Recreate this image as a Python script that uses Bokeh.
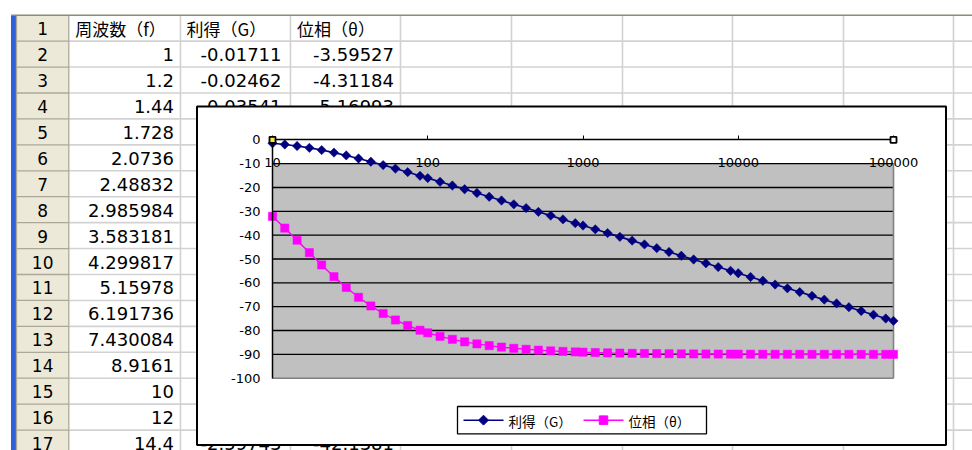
import math

from bokeh.core.properties import value
from bokeh.embed import file_html
from bokeh.models import (FixedTicker, LinearAxis, LogAxis, LogScale,
                          PrintfTickFormatter, Range1d)
from bokeh.plotting import figure
from bokeh.resources import INLINE

# ---------------------------------------------------------------------------
# Frequency response of the RC low-pass: f [Hz], gain G [dB], phase θ [deg]
# ---------------------------------------------------------------------------
freq = [10, 12, 14.4, 17.28, 20.736, 24.8832, 29.85984, 35.83181, 42.99817,
        51.5978, 61.91736, 74.30084, 89.161,
        100, 120, 144, 172.8, 207.36, 248.832, 298.5984, 358.3181, 429.9817,
        515.978, 619.1736, 743.0084, 891.61,
        1000, 1200, 1440, 1728, 2073.6, 2488.32, 2985.984, 3583.181, 4299.817,
        5159.78, 6191.736, 7430.084, 8916.1,
        10000, 12000, 14400, 17280, 20736, 24883.2, 29859.84, 35831.81,
        42998.17, 51597.8, 61917.36, 74300.84, 89161,
        100000]

gain_db = [-1.445, -1.955, -2.597, -3.382, -4.310, -5.371, -6.551, -7.831,
           -9.190, -10.611, -12.078, -13.578, -15.103,
           -16.072, -17.623, -19.184, -20.751, -22.324, -23.899, -25.478,
           -27.058, -28.639, -30.220, -31.803, -33.385, -34.968,
           -35.965, -37.548, -39.131, -40.715, -42.298, -43.882, -45.465,
           -47.049, -48.633, -50.216, -51.800, -53.383, -54.967,
           -55.964, -57.547, -59.131, -60.714, -62.298, -63.882, -65.465,
           -67.049, -68.633, -70.216, -71.800, -73.383, -74.967,
           -75.964]

phase_deg = [-32.14, -37.02, -42.14, -47.35, -52.49, -57.40, -61.94, -66.05,
             -69.69, -72.86, -75.58, -77.91, -79.88,
             -80.96, -82.45, -83.69, -84.74, -85.61, -86.34, -86.95, -87.46,
             -87.88, -88.23, -88.53, -88.77, -88.98,
             -89.09, -89.24, -89.37, -89.47, -89.56, -89.63, -89.69, -89.75,
             -89.79, -89.82, -89.85, -89.88, -89.90,
             -89.91, -89.92, -89.94, -89.95, -89.96, -89.96, -89.97, -89.97,
             -89.98, -89.98, -89.99, -89.99, -89.99,
             -89.99]

x_ticks = [10, 100, 1000, 10000, 100000]
y_ticks = [0, -10, -20, -30, -40, -50, -60, -70, -80, -90, -100]
grid_levels = [-10, -20, -30, -40, -50, -60, -70, -80, -90]

series_names = ["利得（G）", "位相（θ）"]

# Worksheet contents (row number -> cell text)
header_texts = ["周波数（f）", "利得（G）", "位相（θ）"]
col_a_texts = ["1", "1.2", "1.44", "1.728", "2.0736", "2.48832", "2.985984",
               "3.583181", "4.299817", "5.15978", "6.191736", "7.430084",
               "8.9161", "10", "12", "14.4"]          # rows 2..17
col_b_texts = {2: "-0.01711", 3: "-0.02462", 4: "-0.03541", 17: "-2.59743"}
col_c_texts = {2: "-3.59527", 3: "-4.31184", 4: "-5.16993", 17: "-42.1381"}

# ---------------------------------------------------------------------------
# Page geometry (pixels, y measured from the top)
# ---------------------------------------------------------------------------
W, H = 972, 450
SHEET_TOP = 14.7
ROW_H = 25.93
N_ROWS = 17
BLUE_L, HDR_L, HDR_R = 10.5, 16.0, 68.3
COL_EDGES = [68.3, 180, 290, 400, 511, 622, 732, 843, 953]
BOX_L, BOX_T, BOX_R, BOX_B = 196.5, 106.0, 945.5, 444.5
PX_F_LO, PX_F_HI = 272.0, 893.0      # pixel x of first / last frequency tick
PX_Y_TOP, PX_Y_BOT = 139.3, 377.7    # pixel y of 0 and -100

NAVY = "#000080"
MAGENTA = "#FF00FF"
PLOT_GRAY = "#C0C0C0"
CELL_LINE = "#D2D2D2"
HDR_FILL = "#ECE9D8"
HDR_LINE = "#ACA899"

NUM_FONT = value("DejaVu Sans")
CJK_FONT = value("Noto Sans CJK JP")

p = figure(width=W, height=H, x_range=Range1d(0, W), y_range=Range1d(H, 0),
           x_axis_type=None, y_axis_type=None, min_border=0,
           toolbar_location=None, output_backend="svg",
           outline_line_color=None, background_fill_color="white",
           border_fill_color="white")
p.xgrid.visible = False
p.ygrid.visible = False

# Log frequency scale and dB/degree scale placed over the chart's plot area
dec_px = (PX_F_HI - PX_F_LO) / (math.log10(x_ticks[-1]) - math.log10(x_ticks[0]))
log_lo = math.log10(x_ticks[0]) - PX_F_LO / dec_px
log_hi = log_lo + W / dec_px
unit_px = (PX_Y_BOT - PX_Y_TOP) / (y_ticks[0] - y_ticks[-1])
p.extra_x_ranges = {"f": Range1d(10 ** log_lo, 10 ** log_hi)}
p.extra_x_scales = {"f": LogScale()}
p.extra_y_ranges = {"v": Range1d(y_ticks[0] - (H - PX_Y_TOP) / unit_px,
                                 y_ticks[0] + PX_Y_TOP / unit_px)}
ch = dict(x_range_name="f", y_range_name="v")

# ---------------------------------------------------------------------------
# Worksheet
# ---------------------------------------------------------------------------
row_edges = [SHEET_TOP + ROW_H * k for k in range(N_ROWS + 1)]
row_mid = [SHEET_TOP + ROW_H * (k + 0.5) + 0.5 for k in range(N_ROWS)]

p.quad(left=HDR_L, right=HDR_R, top=SHEET_TOP, bottom=H,
       fill_color=HDR_FILL, line_color=None)
p.quad(left=BLUE_L, right=HDR_L, top=SHEET_TOP, bottom=H,
       fill_color="#2F62DA", line_color=None)

# cell grid
p.segment(x0=COL_EDGES[1:], x1=COL_EDGES[1:], y0=SHEET_TOP, y1=H,
          line_color=CELL_LINE, line_width=1.6)
p.segment(x0=HDR_R, x1=W, y0=row_edges[1:], y1=row_edges[1:],
          line_color=CELL_LINE, line_width=1.6)
# row header lines
p.segment(x0=HDR_L, x1=HDR_R, y0=row_edges[1:], y1=row_edges[1:],
          line_color=HDR_LINE, line_width=1.3)
p.segment(x0=[HDR_L, HDR_R], x1=[HDR_L, HDR_R], y0=SHEET_TOP, y1=H,
          line_color=HDR_LINE, line_width=1.3)
p.segment(x0=BLUE_L, x1=W, y0=SHEET_TOP, y1=SHEET_TOP,
          line_color="#8E8B70", line_width=1.4)

# row numbers
p.text(x=(HDR_L + HDR_R) / 2, y=row_mid, text=[str(i + 1) for i in range(N_ROWS)],
       text_font=NUM_FONT, text_font_size="17px", text_align="center",
       text_baseline="middle", text_color="black")

# header row
p.text(x=[COL_EDGES[0] + 6.5, COL_EDGES[1] + 6, COL_EDGES[2] + 6.5],
       y=row_mid[0], text=header_texts, text_font=CJK_FONT,
       text_font_size="17px", text_align="left", text_baseline="middle",
       text_color="black")

# column A values
p.text(x=COL_EDGES[1] - 6.5, y=row_mid[1:1 + len(col_a_texts)], text=col_a_texts,
       text_font=NUM_FONT, text_font_size="18px", text_align="right",
       text_baseline="middle", text_color="black")
# columns B and C values (rows not hidden by the chart)
p.text(x=COL_EDGES[2] - 9, y=[row_mid[r - 1] for r in col_b_texts],
       text=list(col_b_texts.values()), text_font=NUM_FONT,
       text_font_size="18px", text_align="right", text_baseline="middle",
       text_color="black")
p.text(x=COL_EDGES[3] - 6.5, y=[row_mid[r - 1] for r in col_c_texts],
       text=list(col_c_texts.values()), text_font=NUM_FONT,
       text_font_size="18px", text_align="right", text_baseline="middle",
       text_color="black")

# ---------------------------------------------------------------------------
# Embedded chart
# ---------------------------------------------------------------------------
p.quad(left=BOX_L, right=BOX_R, top=BOX_T, bottom=BOX_B,
       fill_color="white", line_color="black", line_width=2)

# plot area fill, gridlines and frame
p.quad(left=x_ticks[0], right=x_ticks[-1], top=grid_levels[0],
       bottom=y_ticks[-1], fill_color=PLOT_GRAY, line_color=None, **ch)
p.segment(x0=x_ticks[0], x1=x_ticks[-1], y0=grid_levels, y1=grid_levels,
          line_color="black", line_width=1.3, **ch)
p.segment(x0=[x_ticks[0], x_ticks[-1]], x1=[x_ticks[-1], x_ticks[-1]],
          y0=[y_ticks[-1], grid_levels[0]], y1=[y_ticks[-1], y_ticks[-1]],
          line_color="#808080", line_width=1.6, **ch)

# series
p.line(freq, gain_db, line_color=NAVY, line_width=1.6, **ch)
p.scatter(freq, gain_db, marker="square", angle=math.pi / 4, size=6.6,
          fill_color=NAVY, line_color=NAVY, line_width=0.5, **ch)
p.line(freq, phase_deg, line_color=MAGENTA, line_width=1.4, **ch)
p.scatter(freq, phase_deg, marker="square", size=8.2,
          fill_color=MAGENTA, line_color=MAGENTA, line_width=0.5, **ch)

# axes: category axis along the top at 0, value axis at the first frequency
xa = LogAxis(fixed_location=y_ticks[0], bounds=(x_ticks[0], x_ticks[-1]),
             ticker=FixedTicker(ticks=x_ticks),
             formatter=PrintfTickFormatter(format="%d"), **ch)
xa.axis_line_color = "black"
xa.axis_line_width = 1.5
xa.major_tick_line_color = "black"
xa.major_tick_out = 4
xa.major_tick_in = 0
xa.minor_tick_line_color = None
xa.major_label_standoff = -31
xa.major_label_text_font = "DejaVu Sans"
xa.major_label_text_font_size = "13px"
xa.major_label_text_color = "black"
p.add_layout(xa, "above")

ya = LinearAxis(fixed_location=x_ticks[0], bounds=(y_ticks[-1], y_ticks[0]),
                ticker=FixedTicker(ticks=y_ticks),
                formatter=PrintfTickFormatter(format="%d"), **ch)
ya.axis_line_color = "black"
ya.axis_line_width = 1.5
ya.major_tick_out = 0
ya.major_tick_in = 0
ya.minor_tick_line_color = None
ya.major_label_standoff = 12
ya.major_label_text_font = "DejaVu Sans"
ya.major_label_text_font_size = "13px"
ya.major_label_text_color = "black"
p.add_layout(ya, "left")

# selection handles at the ends of the category axis
p.scatter([x_ticks[0], x_ticks[-1]], [y_ticks[0], y_ticks[0]], marker="square",
          size=6, fill_color=["#FFE34A", "white"], line_color="black",
          line_width=1.8, level="overlay", **ch)

# legend
LEG_L, LEG_T, LEG_R, LEG_B = 457.0, 406.0, 706.0, 433.3
leg_y = (LEG_T + LEG_B) / 2
p.quad(left=LEG_L, right=LEG_R, top=LEG_T, bottom=LEG_B,
       fill_color="white", line_color="black", line_width=1.3)
p.segment(x0=[463, 583], x1=[503, 623], y0=leg_y, y1=leg_y,
          line_color=[NAVY, MAGENTA], line_width=1.5)
p.scatter([483], [leg_y], marker="square", angle=math.pi / 4, size=7,
          fill_color=NAVY, line_color=NAVY)
p.scatter([603], [leg_y], marker="square", size=8.5,
          fill_color=MAGENTA, line_color=MAGENTA)
p.text(x=[508, 628], y=leg_y + 0.5, text=series_names, text_font=CJK_FONT,
       text_font_size="13.5px", text_align="left", text_baseline="middle",
       text_color="black")

open("out.html", "w").write(file_html(p, INLINE))
